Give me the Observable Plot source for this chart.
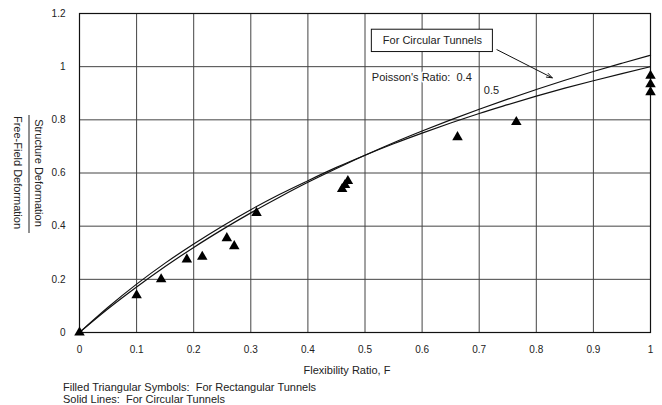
<!DOCTYPE html>
<html><head><meta charset="utf-8">
<script src="https://cdn.jsdelivr.net/npm/d3@7"></script>
<script src="https://cdn.jsdelivr.net/npm/@observablehq/plot@0.6"></script>
<style>
html,body{margin:0;padding:0;background:#fff;}
svg{display:block;}
</style>
</head><body><div id="chart"></div>
<script>
// Flexibility ratio sample points
const flexF = [0,0.05,0.1,0.15,0.2,0.25,0.3,0.35,0.4,0.45,0.5,0.55,0.6,0.65,0.7,0.75,0.8,0.85,0.9,0.95,1];
// Circular tunnels, Poisson's ratio 0.4
const ratioNu04 = [0,0.089,0.171,0.248,0.320,0.387,0.450,0.509,0.565,0.617,0.667,0.714,0.758,0.800,0.840,0.878,0.914,0.949,0.982,1.013,1.043];
// Circular tunnels, Poisson's ratio 0.5
const ratioNu05 = [0,0.095,0.182,0.261,0.333,0.400,0.462,0.519,0.571,0.621,0.667,0.710,0.750,0.788,0.824,0.857,0.889,0.919,0.947,0.974,1.000];
// Rectangular tunnels (filled triangles)
const rectF     = [0,0.100,0.143,0.188,0.215,0.258,0.271,0.310,0.460,0.465,0.470,0.662,0.765,1,1,1];
const rectRatio = [0,0.140,0.200,0.275,0.285,0.355,0.325,0.450,0.540,0.555,0.570,0.735,0.792,0.904,0.934,0.966];
// Tick values
const xTicks = [0,0.1,0.2,0.3,0.4,0.5,0.6,0.7,0.8,0.9,1];
const yTicks = [0,0.2,0.4,0.6,0.8,1,1.2];
// Annotations
const boxLabel = ["For Circular Tunnels"];
const boxX = [0.512, 0.724];
const boxY = [1.055, 1.139];
const arrowFrom = [0.731, 1.064];
const arrowTo = [0.828, 0.958];
const nuLabels = ["Poisson's Ratio:  0.4", "0.5"];
const nuLabelX = [0.512, 0.708];
const nuLabelY = [0.958, 0.910];

const curves = [
  ...flexF.map((f,i)=>({F:f, r:ratioNu04[i], nu:"0.4"})),
  ...flexF.map((f,i)=>({F:f, r:ratioNu05[i], nu:"0.5"}))
];
const rect = rectF.map((f,i)=>({F:f, r:rectRatio[i]}));
const nuText = nuLabels.map((t,i)=>({t, x:nuLabelX[i], y:nuLabelY[i]}));

const font = "'Liberation Sans', Arial, Helvetica, sans-serif";

const chart = Plot.plot({
  width: 662, height: 405,
  marginLeft: 79, marginRight: 12, marginTop: 13, marginBottom: 73,
  x: {domain: [0,1]},
  y: {domain: [0,1.2]},
  style: {fontFamily: font, fontSize: "10px", color: "#222", background: "#fff"},
  marks: [
    Plot.ruleX(xTicks, {stroke: "#444", strokeWidth: 1}),
    Plot.ruleY(yTicks, {stroke: "#444", strokeWidth: 1}),
    Plot.frame({stroke: "#111", strokeWidth: 1.2}),
    Plot.axisX(xTicks, {tickSize: 0, tickPadding: 13, tickFormat: d => String(d), label: null, fontSize: 10}),
    Plot.axisY(yTicks, {tickSize: 0, tickPadding: 14, tickFormat: d => String(d), label: null, fontSize: 10}),
    Plot.line(curves, {x: "F", y: "r", z: "nu", stroke: "#111", strokeWidth: 1.2, curve: "monotone-x"}),
    Plot.dot(rect, {x: "F", y: "r", symbol: "triangle", r: 3.9, fill: "#000", stroke: "none"}),
    Plot.rect([0], {x1: () => boxX[0], x2: () => boxX[1], y1: () => boxY[0], y2: () => boxY[1], fill: "#fff", stroke: "#111", strokeWidth: 1}),
    Plot.text(boxLabel, {x: (boxX[0]+boxX[1])/2, y: (boxY[0]+boxY[1])/2, text: d => d, fontSize: 11, fill: "#222"}),
    Plot.arrow([0], {x1: () => arrowFrom[0], y1: () => arrowFrom[1], x2: () => arrowTo[0], y2: () => arrowTo[1], stroke: "#111", strokeWidth: 1, headLength: 9, headAngle: 40}),
    Plot.text(nuText, {x: "x", y: "y", text: "t", textAnchor: "start", fontSize: 11, fill: "#222", stroke: "#fff", strokeWidth: 3, paintOrder: "stroke"})
  ]
});

const svg = d3.select(chart);
svg.selectAll("text").style("white-space", "pre");
function addText(x, y, str, anchor, transform) {
  const t = svg.append("text")
    .attr("text-anchor", anchor)
    .attr("font-family", font).attr("font-size", 11).attr("fill", "#222")
    .style("white-space", "pre").text(str);
  if (transform) t.attr("transform", transform); else t.attr("x", x).attr("y", y);
  return t;
}
// x-axis title
addText(347, 374, "Flexibility Ratio, F", "middle");
// y-axis title as a fraction
addText(0, 0, "Structure Deformation", "middle", "translate(35,173) rotate(90)");
svg.append("line").attr("x1", 29).attr("x2", 29).attr("y1", 115).attr("y2", 233).attr("stroke", "#222").attr("stroke-width", 1);
addText(0, 0, "Free-Field Deformation", "middle", "translate(13.5,172.5) rotate(90)");
// caption
addText(63, 391, "Filled Triangular Symbols:  For Rectangular Tunnels", "start");
addText(63, 403, "Solid Lines:  For Circular Tunnels", "start");

document.getElementById("chart").appendChild(chart);
</script>
</body></html>
